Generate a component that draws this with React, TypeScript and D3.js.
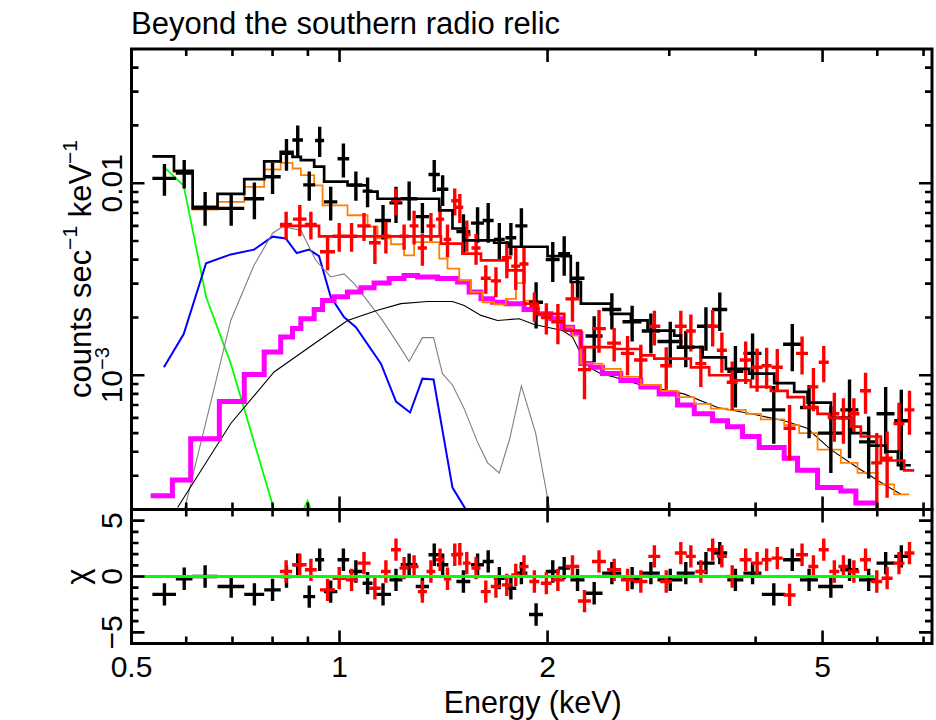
import React from 'react';
import * as d3 from 'd3';

const W = 936, H = 720;
const F = { left: 131.5, right: 932, top: 49, mid: 509.5, bottom: 643.5 };
const FONT = '"Liberation Sans", Arial, Helvetica, sans-serif';

const energyDomain: [number, number] = [0.5, 7.2];
const rateDomain: [number, number] = [2e-4, 0.05];
const chiDomain: [number, number] = [-6, 6];

const xMajorTicks = [0.5, 1, 2, 5];
const xTickLabels = ['0.5', '1', '2', '5'];
const xMinorTicks = [0.6, 0.7, 0.8, 0.9, 3, 4, 6, 7];
const yMajorTicks = [1e-3, 1e-2];
const yMinorTicks = [3e-4, 4e-4, 5e-4, 6e-4, 7e-4, 8e-4, 9e-4, 2e-3, 3e-3, 4e-3, 5e-3, 6e-3, 7e-3, 8e-3, 9e-3, 2e-2, 3e-2, 4e-2];
const chiMajorTicks = [-5, 0, 5];
const chiTickLabels = ['\u22125', '0', '5'];
const chiMinorTicks = [-4, -3, -2, -1, 1, 2, 3, 4];

// [energy keV, half bin width, rate, rate error, chi]
const blackData: number[][] = [
  [0.558, 0.022, 0.0106, 0.0020, -1.6], [0.596, 0.0165, 0.0113, 0.0019, -0.2], [0.639, 0.027, 0.0075, 0.0015, 0.0],
  [0.697, 0.031, 0.0074, 0.0014, -0.9], [0.753, 0.025, 0.0083, 0.0018, -1.6], [0.800, 0.022, 0.0108, 0.0020, -1.2],
  [0.838, 0.016, 0.0143, 0.0027, 0.0], [0.870, 0.0154, 0.0168, 0.0032, 1.05], [0.904, 0.018, 0.0098, 0.0017, -1.8],
  [0.936, 0.014, 0.0167, 0.0030, 1.5], [0.971, 0.0217, 0.0080, 0.0016, -1.35], [1.013, 0.0196, 0.0134, 0.0027, 1.5],
  [1.056, 0.0236, 0.0098, 0.0017, 0.45], [1.098, 0.018, 0.0091, 0.0016, -0.6], [1.156, 0.031, 0.0064, 0.0013, -1.6],
  [1.207, 0.026, 0.0079, 0.0017, -0.3], [1.261, 0.035, 0.0083, 0.0019, 1.05], [1.318, 0.029, 0.0067, 0.0012, -0.9],
  [1.371, 0.026, 0.0111, 0.0021, 1.95], [1.410, 0.027, 0.0093, 0.0017, 1.05], [1.511, 0.035, 0.0056, 0.0013, -0.45],
  [1.584, 0.034, 0.0062, 0.0013, 1.05], [1.641, 0.030, 0.0064, 0.0015, 1.35], [1.703, 0.031, 0.0051, 0.0011, -0.15],
  [1.770, 0.032, 0.0052, 0.0010, -1.05], [1.833, 0.037, 0.0060, 0.0014, 0.3], [1.925, 0.045, 0.0024, 0.00065, -3.4],
  [2.035, 0.047, 0.0040, 0.00094, 0.45], [2.114, 0.042, 0.0043, 0.0010, 0.75], [2.210, 0.052, 0.0032, 0.0007, -0.3],
  [2.336, 0.066, 0.0016, 0.00043, -1.5], [2.478, 0.079, 0.0022, 0.00047, 0.3], [2.651, 0.084, 0.0019, 0.0004, -0.15],
  [2.822, 0.085, 0.0017, 0.0004, 0.3], [3.010, 0.125, 0.0015, 0.0004, -0.3], [3.170, 0.095, 0.0014, 0.0003, 0.3],
  [3.390, 0.100, 0.0018, 0.00046, 1.2], [3.550, 0.089, 0.0022, 0.0005, 2.1], [3.740, 0.100, 0.00105, 0.00037, -0.3],
  [3.960, 0.119, 0.0013, 0.00035, 0.3], [4.250, 0.166, 0.00066, 0.00022, -1.6], [4.520, 0.136, 0.00145, 0.0004, 1.5],
  [4.780, 0.143, 0.00068, 0.00021, -0.3], [5.140, 0.214, 0.0005, 0.00019, -0.9], [5.470, 0.164, 0.00066, 0.00029, 0.6],
  [5.830, 0.185, 0.00045, 0.00016, -0.3], [6.170, 0.185, 0.00063, 0.00024, 1.2], [6.500, 0.150, 0.00058, 0.00026, 1.8],
];

const redData: number[][] = [
  [0.837, 0.017, 0.0061, 0.0010, 0.45], [0.876, 0.020, 0.0065, 0.0012, 1.05], [0.909, 0.018, 0.0061, 0.0010, 0.6],
  [0.961, 0.024, 0.0044, 0.00088, -1.2], [0.999, 0.022, 0.0053, 0.0009, -0.15], [1.041, 0.020, 0.0053, 0.0009, -0.3],
  [1.085, 0.024, 0.0060, 0.0010, 1.2], [1.125, 0.022, 0.0049, 0.0011, -1.05], [1.167, 0.019, 0.0053, 0.0010, 0.45],
  [1.207, 0.020, 0.0081, 0.0013, 2.4], [1.240, 0.019, 0.0053, 0.0008, 0.75], [1.282, 0.019, 0.0060, 0.0012, 0.9],
  [1.318, 0.020, 0.0046, 0.00088, -1.35], [1.356, 0.020, 0.0060, 0.0010, 0.45], [1.398, 0.019, 0.0065, 0.0012, 1.5],
  [1.433, 0.018, 0.0051, 0.0010, -0.2], [1.468, 0.017, 0.0081, 0.0013, 1.95], [1.493, 0.017, 0.0075, 0.0013, 2.0],
  [1.528, 0.020, 0.0054, 0.0010, 1.2], [1.576, 0.024, 0.0046, 0.00084, 0.75], [1.628, 0.027, 0.0032, 0.00054, -1.35],
  [1.684, 0.029, 0.0031, 0.00055, -0.9], [1.746, 0.029, 0.0041, 0.0009, -0.75], [1.799, 0.027, 0.0037, 0.00092, 0.15],
  [1.849, 0.028, 0.0038, 0.0008, 0.9], [1.914, 0.032, 0.0023, 0.0004, -0.45], [1.992, 0.036, 0.0020, 0.00037, -0.6],
  [2.070, 0.045, 0.0019, 0.00045, -0.3], [2.173, 0.050, 0.0025, 0.0006, 0.9], [2.262, 0.049, 0.00107, 0.00032, -2.2],
  [2.374, 0.055, 0.00175, 0.00044, 1.35], [2.497, 0.058, 0.00147, 0.00029, 0.6], [2.611, 0.058, 0.0013, 0.0003, -0.3],
  [2.729, 0.061, 0.0012, 0.00024, -0.45], [2.855, 0.057, 0.0018, 0.00037, 1.8], [2.970, 0.059, 0.00112, 0.00028, -0.45],
  [3.118, 0.062, 0.0018, 0.00037, 2.1], [3.224, 0.054, 0.0017, 0.00037, 1.8], [3.333, 0.061, 0.00115, 0.00028, 0.45],
  [3.467, 0.064, 0.0018, 0.00039, 2.4], [3.575, 0.060, 0.00135, 0.00032, 1.8], [3.700, 0.067, 0.00092, 0.00026, 0.0],
  [3.870, 0.077, 0.0012, 0.0003, 1.5], [4.020, 0.074, 0.0011, 0.00028, 1.2], [4.150, 0.069, 0.00112, 0.00027, 1.5],
  [4.300, 0.079, 0.0011, 0.00027, 1.65], [4.480, 0.090, 0.00053, 0.00017, -1.65], [4.670, 0.093, 0.0013, 0.00029, 1.95],
  [4.850, 0.081, 0.00087, 0.00022, 0.9], [5.020, 0.084, 0.00117, 0.00025, 2.4], [5.200, 0.087, 0.00063, 0.00018, 0.45],
  [5.360, 0.089, 0.0006, 0.00016, 0.9], [5.550, 0.102, 0.00063, 0.00013, 0.45], [5.770, 0.106, 0.00083, 0.0002, 1.5],
  [5.990, 0.110, 0.00035, 0.00015, -0.45], [6.200, 0.114, 0.00037, 0.00014, -0.15], [6.450, 0.118, 0.00056, 0.00016, 1.2],
  [6.680, 0.111, 0.00066, 0.00017, 2.1],
];

// step models: [bin start energy, value]; last entry closes the final bin
const blackModel: [number, number][] = [
  [0.536, 0.0138], [0.576, 0.0116], [0.613, 0.0074], [0.666, 0.0088], [0.728, 0.0105], [0.778, 0.0130],
  [0.822, 0.01456], [0.855, 0.0137], [0.879, 0.0132], [0.919, 0.0122], [0.950, 0.0102], [1.027, 0.00975],
  [1.098, 0.00904], [1.135, 0.0083], [1.394, 0.00723], [1.457, 0.00581], [1.515, 0.00504], [1.674, 0.0049],
  [1.760, 0.00467], [2.000, 0.00417], [2.161, 0.00306], [2.235, 0.00236], [2.470, 0.00209], [2.640, 0.00193],
  [2.791, 0.00171], [3.050, 0.00161], [3.118, 0.0014], [3.353, 0.00124], [3.623, 0.00108], [3.915, 0.00102],
  [4.256, 0.00091], [4.549, 0.00082], [4.757, 0.00072], [5.140, 0.0006], [5.494, 0.0005], [5.834, 0.00043],
  [6.174, 0.0004], [6.427, 0.00034], [6.710, 0.00034],
];

const redModel: [number, number][] = [
  [0.820, 0.0060], [0.934, 0.00529], [1.402, 0.00485], [1.506, 0.0043], [1.602, 0.00397], [1.750, 0.00352],
  [1.849, 0.00236], [1.934, 0.00209], [2.114, 0.00171], [2.235, 0.0014], [2.497, 0.00137], [2.729, 0.00127],
  [2.854, 0.00122], [3.224, 0.0011], [3.427, 0.0010], [3.684, 0.00094], [3.937, 0.00087], [4.209, 0.00083],
  [4.450, 0.00077], [4.703, 0.00068], [4.917, 0.00063], [5.110, 0.0006], [5.494, 0.00054], [5.680, 0.00048],
  [6.072, 0.00036], [6.563, 0.00032], [6.786, 0.00032],
];

const orangeModel: [number, number][] = [
  [0.536, 0.0137], [0.576, 0.01147], [0.613, 0.0073], [0.666, 0.0080], [0.728, 0.00957], [0.778, 0.01179],
  [0.822, 0.01276], [0.855, 0.01193], [0.879, 0.01101], [0.919, 0.00975], [0.945, 0.00767], [1.027, 0.00681],
  [1.098, 0.00594], [1.135, 0.00517], [1.187, 0.00481], [1.240, 0.00421], [1.282, 0.00494], [1.394, 0.00405],
  [1.433, 0.00359], [1.490, 0.00312], [1.549, 0.00271], [1.610, 0.0024], [1.674, 0.00234], [1.741, 0.0025],
  [1.800, 0.00302], [1.849, 0.00245], [1.934, 0.00209], [2.114, 0.00178], [2.174, 0.00161], [2.235, 0.00115],
  [2.402, 0.00108], [2.553, 0.00098], [2.729, 0.00089], [2.917, 0.00083], [3.084, 0.00077], [3.261, 0.00071],
  [3.446, 0.00067], [3.643, 0.00066], [3.873, 0.00063], [4.071, 0.00059], [4.400, 0.00055], [4.625, 0.0005],
  [4.917, 0.00041], [5.314, 0.00035], [5.618, 0.00031], [6.006, 0.00027], [6.348, 0.00024], [6.673, 0.00024],
];

const magentaModel: [number, number][] = [
  [0.533, 0.000236], [0.573, 0.000285], [0.609, 0.000467], [0.670, 0.00073], [0.728, 0.00101], [0.778, 0.00132],
  [0.822, 0.00158], [0.855, 0.00175], [0.879, 0.00197], [0.919, 0.0022], [0.945, 0.00245], [0.982, 0.00256],
  [1.027, 0.00271], [1.074, 0.00286], [1.122, 0.00302], [1.180, 0.00319], [1.240, 0.00331], [1.297, 0.00325],
  [1.386, 0.00319], [1.482, 0.00306], [1.540, 0.00271], [1.602, 0.0025], [1.665, 0.0024], [1.741, 0.00236],
  [1.849, 0.0022], [1.934, 0.00209], [2.022, 0.00197], [2.102, 0.00178], [2.174, 0.00165], [2.235, 0.00115],
  [2.310, 0.0011], [2.402, 0.00102], [2.553, 0.00094], [2.729, 0.00087], [2.901, 0.0008], [3.084, 0.0007],
  [3.261, 0.00063], [3.466, 0.00058], [3.643, 0.00054], [3.830, 0.00048], [4.048, 0.00042], [4.400, 0.00037],
  [4.600, 0.00032], [4.917, 0.00026], [5.314, 0.00025], [5.587, 0.000216], [6.006, 0.000216],
];

// smooth components: [energy, value]
const cxbComponent: [number, number][] = [
  [0.583, 0.000205], [0.696, 0.000561], [0.804, 0.00104], [0.919, 0.00146], [1.027, 0.00193], [1.135, 0.00218],
  [1.227, 0.00236], [1.341, 0.00242], [1.457, 0.00242], [1.515, 0.00231], [1.602, 0.00205], [1.693, 0.00193],
  [1.820, 0.00197], [1.913, 0.00184], [2.102, 0.00171], [2.174, 0.00158], [2.235, 0.00129], [2.298, 0.0011],
  [2.388, 0.00102], [2.497, 0.00098], [2.729, 0.00089], [3.150, 0.0008], [3.525, 0.00068], [3.937, 0.00063],
  [4.400, 0.00058], [4.750, 0.00053], [5.140, 0.00041], [5.620, 0.00033], [6.140, 0.00027], [6.490, 0.00024],
];

const grayComponent: [number, number][] = [
  [0.596, 0.000197], [0.696, 0.00193], [0.752, 0.00374], [0.800, 0.00549], [0.827, 0.00594], [0.879, 0.00569],
  [0.924, 0.00397], [0.971, 0.00325], [1.015, 0.00337], [1.050, 0.0030], [1.154, 0.00193], [1.227, 0.00138],
  [1.261, 0.00118], [1.318, 0.00157], [1.368, 0.00157], [1.409, 0.00102], [1.457, 0.00089], [1.515, 0.00067],
  [1.583, 0.00045], [1.638, 0.00035], [1.703, 0.00031], [1.761, 0.00046], [1.833, 0.00088], [1.922, 0.0005],
  [2.010, 0.000209], [2.060, 0.00012],
];

const blueComponent: [number, number][] = [
  [0.557, 0.0011], [0.595, 0.00164], [0.641, 0.00383], [0.696, 0.00426], [0.752, 0.00451], [0.800, 0.00527],
  [0.836, 0.00516], [0.867, 0.00433], [0.904, 0.00451], [0.934, 0.00417], [0.971, 0.00256], [1.015, 0.00201],
  [1.056, 0.00178], [1.148, 0.00115], [1.207, 0.00073], [1.265, 0.00064], [1.318, 0.00096], [1.368, 0.00095],
  [1.457, 0.00026], [1.523, 0.0002], [1.580, 0.00014],
];

const greenComponent: [number, number][] = [
  [0.557, 0.01218], [0.595, 0.00971], [0.641, 0.00256], [0.696, 0.00115], [0.804, 0.0002], [0.840, 0.00013],
  [0.899, 0.000222], [0.960, 0.00012],
];

const chiZeroLine: [number, number][] = [[0.5, 0], [5.94, 0]];

export default function App() {
  const x = d3.scaleLog().domain(energyDomain).range([F.left, F.right]);
  const y = d3.scaleLog().domain(rateDomain).range([F.mid, F.top]);
  const yc = d3.scaleLinear().domain(chiDomain).range([F.bottom, F.mid]);

  const step = d3.line<[number, number]>().x(d => x(d[0])).y(d => y(d[1])).curve(d3.curveStepAfter);
  const smooth = d3.line<[number, number]>().x(d => x(d[0])).y(d => y(d[1]));
  const chiLine = d3.line<[number, number]>().x(d => x(d[0])).y(d => yc(d[1]));

  const crosses = (data: number[][]) =>
    data.map(d => {
      const [e, de, v, dv] = d;
      const lo = Math.max(v - dv, 1e-6);
      return `M${x(e - de)},${y(v)}H${x(e + de)}M${x(e)},${y(lo)}V${y(v + dv)}`;
    }).join('');
  const chiCrosses = (data: number[][]) =>
    data.map(d => {
      const [e, de, , , c] = d;
      return `M${x(e - de)},${yc(c)}H${x(e + de)}M${x(e)},${yc(c - 1)}V${yc(c + 1)}`;
    }).join('');

  const MAJ = 13, MIN = 7;
  let tickPath = '';
  for (const [list, len] of [[xMajorTicks, MAJ], [xMinorTicks, MIN]] as [number[], number][]) {
    for (const t of list) {
      const px = x(t);
      tickPath += `M${px},${F.top}v${len}M${px},${F.mid}v${-len}M${px},${F.mid}v${len}M${px},${F.bottom}v${-len}`;
    }
  }
  for (const [list, len] of [[yMajorTicks, MAJ], [yMinorTicks, MIN]] as [number[], number][]) {
    for (const t of list) {
      const py = y(t);
      tickPath += `M${F.left},${py}h${len}M${F.right},${py}h${-len}`;
    }
  }
  for (const [list, len] of [[chiMajorTicks, MAJ], [chiMinorTicks, MIN]] as [number[], number][]) {
    for (const t of list) {
      const py = yc(t);
      tickPath += `M${F.left},${py}h${len}M${F.right},${py}h${-len}`;
    }
  }

  const fs = 30;
  const labelX = 122;

  return (
    <svg width={W} height={H} style={{ position: 'absolute', left: 0, top: 0, background: '#fff' }} fontFamily={FONT}>
      <defs>
        <clipPath id="clipTop"><rect x={F.left} y={F.top} width={F.right - F.left} height={F.mid - F.top} /></clipPath>
        <clipPath id="clipBot"><rect x={F.left} y={F.mid} width={F.right - F.left} height={F.bottom - F.mid} /></clipPath>
      </defs>
      <rect width={W} height={H} fill="#fff" />
      <text x={131} y={34} fontSize={31} fill="#000">Beyond the southern radio relic</text>

      <g clipPath="url(#clipTop)" fill="none" strokeLinejoin="miter">
        <path d={smooth(greenComponent) || ''} stroke="#00ff00" strokeWidth={1.8} />
        <path d={smooth(blueComponent) || ''} stroke="#0000ff" strokeWidth={2} />
        <path d={smooth(grayComponent) || ''} stroke="#7f7f7f" strokeWidth={1.1} />
        <path d={smooth(cxbComponent) || ''} stroke="#000" strokeWidth={1.1} />
        <path d={step(magentaModel) || ''} stroke="#ff00ff" strokeWidth={5} />
        <path d={step(orangeModel) || ''} stroke="#ff8000" strokeWidth={1.8} />
        <path d={crosses(blackData)} stroke="#000" strokeWidth={3.4} />
        <path d={crosses(redData)} stroke="#ff0000" strokeWidth={3.4} />
        <path d={step(blackModel) || ''} stroke="#000" strokeWidth={2.7} />
        <path d={step(redModel) || ''} stroke="#ff0000" strokeWidth={2.7} />
      </g>

      <g clipPath="url(#clipBot)" fill="none">
        <path d={chiCrosses(blackData)} stroke="#000" strokeWidth={3.4} />
        <path d={chiCrosses(redData)} stroke="#ff0000" strokeWidth={3.4} />
        <path d={chiLine(chiZeroLine) || ''} stroke="#00ff00" strokeWidth={3} />
      </g>

      <path d={tickPath} stroke="#000" strokeWidth={2.6} fill="none" />
      <rect x={F.left} y={F.top} width={F.right - F.left} height={F.mid - F.top} fill="none" stroke="#000" strokeWidth={3} />
      <rect x={F.left} y={F.mid} width={F.right - F.left} height={F.bottom - F.mid} fill="none" stroke="#000" strokeWidth={3} />

      {xMajorTicks.map((t, i) => (
        <text key={'xl' + i} x={x(t)} y={677} fontSize={fs} textAnchor="middle">{xTickLabels[i]}</text>
      ))}
      <text x={(F.left + F.right) / 2 + 1} y={713} fontSize={30.5} textAnchor="middle">Energy (keV)</text>

      <text transform={`translate(${labelX},${y(1e-2)}) rotate(-90)`} fontSize={fs} textAnchor="middle">0.01</text>
      <text transform={`translate(${labelX},${y(1e-3)}) rotate(-90)`} fontSize={fs} textAnchor="middle">
        10<tspan dy={-13} fontSize={20}>{'\u22123'}</tspan>
      </text>
      {chiMajorTicks.map((t, i) => (
        <text key={'cl' + i} transform={`translate(${labelX},${yc(t)}) rotate(-90)`} fontSize={fs} textAnchor="middle">{chiTickLabels[i]}</text>
      ))}
      <text transform={`translate(91,269) rotate(-90)`} fontSize={31} textAnchor="middle">
        counts sec<tspan dy={-14} fontSize={21}>{'\u22121'}</tspan><tspan dy={14}> keV</tspan><tspan dy={-14} fontSize={21}>{'\u22121'}</tspan>
      </text>
      <text transform={`translate(88,${yc(0)}) rotate(-90)`} fontSize={31} textAnchor="middle">χ</text>
    </svg>
  );
}
